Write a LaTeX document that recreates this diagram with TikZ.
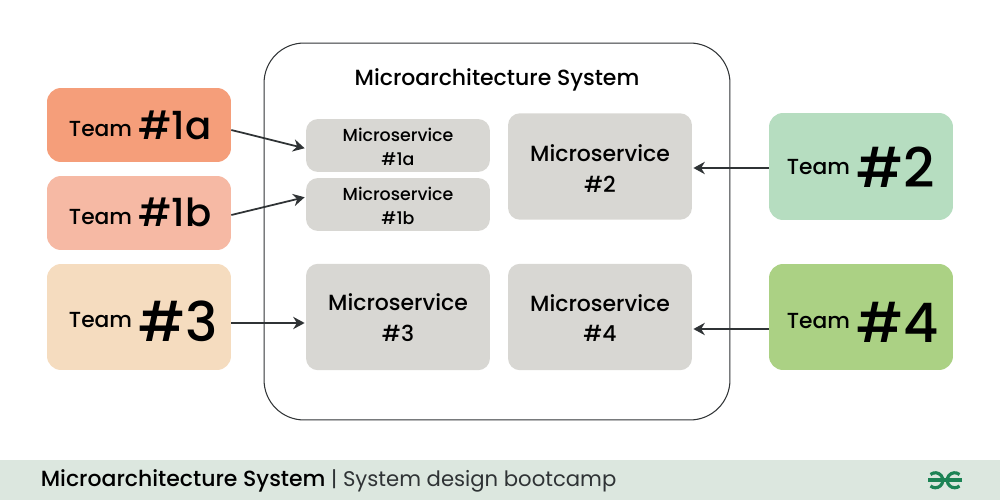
\documentclass[tikz,border=0pt]{standalone}
\usepackage{fontspec}
\setmainfont{Poppins Medium}
\newfontfamily\footerregular{Poppins}
\usetikzlibrary{arrows.meta}
\definecolor{teamA}{HTML}{F59E7A}
\definecolor{teamB}{HTML}{F6B9A4}
\definecolor{teamC}{HTML}{F5DCBF}
\definecolor{teamD}{HTML}{B6DDC0}
\definecolor{teamE}{HTML}{ABD184}
\definecolor{serviceFill}{HTML}{D8D7D3}
\definecolor{footerFill}{HTML}{DCE7DF}
\definecolor{inkDark}{HTML}{2F3335}
\definecolor{logoGreen}{HTML}{1C8355}
\newcommand{\teamText}[5]{\hspace*{#1}\smash{\raisebox{-#2}{\fontsize{12.4}{13}\selectfont Team}\hspace{3.5pt}\raisebox{-#3}{\fontsize{#4}{#4}\selectfont #5}}}
\newcommand{\serviceText}[2]{\rule{0pt}{#1}Microservice\\\##2}
\tikzset{
	teambox/.style = {rectangle, rounded corners=0.28cm, inner sep=0pt, text=black, text width=3.68cm, align=left},
	servicebox/.style = {rectangle, rounded corners=0.24cm, inner sep=0pt, fill=serviceFill, text=black, align=center, minimum width=3.68cm},
	smallservice/.style = {servicebox, minimum height=1.06cm, font=\fontsize{9.9}{13.5}\selectfont},
	bigservice/.style = {servicebox, minimum height=2.13cm, font=\fontsize{12.5}{17.3}\selectfont},
	link/.style = {draw=inkDark, line width=1pt, shorten >=0.6pt, -{Stealth[length=6.5pt,width=7pt]}}
}
\begin{document}
\begin{tikzpicture}[x=0.02cm, y=-0.02cm]
	\useasboundingbox (0,0) rectangle (1000,500);
	% footer
	\fill[footerFill] (0,460) rectangle (1000,500);
	\node[anchor=west, inner sep=0pt, text=black, font=\fontsize{12.5}{13}\selectfont] (footer) at (40.5,481)
		{Microarchitecture System {\footerregular\fontsize{12.05}{13}\selectfont\textcolor{inkDark}{| System design bootcamp}}};
	% outer box
	\node[draw=inkDark, line width=0.6pt, rounded corners=0.8cm, minimum width=9.32cm, minimum height=7.54cm, inner sep=0pt] (system) at (497,231.5) {};
	\node[inner sep=0pt, text=black, font=\fontsize{12.5}{13}\selectfont] (title) at (497,80) {Microarchitecture System};
	% services
	\node[smallservice] (service1a) at (398,145.5) {\serviceText{9pt}{1a}};
	\node[smallservice] (service1b) at (398,204.5) {\serviceText{9pt}{1b}};
	\node[bigservice] (service2) at (600,166.5) {\serviceText{12pt}{2}};
	\node[bigservice] (service3) at (398,317) {\serviceText{10.5pt}{3}};
	\node[bigservice] (service4) at (600,317) {\serviceText{10.5pt}{4}};
	% teams
	\node[teambox, fill=teamA, minimum height=1.48cm] (team1a) at (139,125) {\teamText{12.5pt}{6.8pt}{8.5pt}{22}{\#1a}};
	\node[teambox, fill=teamB, minimum height=1.48cm] (team1b) at (139,213) {\teamText{12.5pt}{6.3pt}{7.4pt}{22}{\#1b}};
	\node[teambox, fill=teamC, minimum height=2.12cm] (team3) at (139,317) {\teamText{12.5pt}{6.1pt}{14.2pt}{31}{\#3}};
	\node[teambox, fill=teamD, minimum height=2.14cm] (team2) at (861,166.5) {\teamText{10.2pt}{4.8pt}{12.2pt}{31}{\#2}};
	\node[teambox, fill=teamE, minimum height=2.12cm] (team4) at (861,317) {\teamText{10.2pt}{6.3pt}{14.6pt}{31}{\#4}};
	% links
	\draw[link] ([yshift=-0.1cm]team1a.east) -- ([yshift=-0.06cm]service1a.west);
	\draw[link] ([yshift=-0.04cm]team1b.east) -- ([yshift=0.15cm]service1b.west);
	\draw[link] ([yshift=-0.12cm]team3.east) -- ([yshift=-0.12cm]service3.west);
	\draw[link] ([yshift=-0.03cm]team2.west) -- ([yshift=-0.03cm]service2.east);
	\draw[link] ([yshift=-0.24cm]team4.west) -- ([yshift=-0.24cm]service4.east);
	% logo
	\draw[logoGreen, line width=1.8pt] (928,480) -- (962,480);
	\draw[logoGreen, line width=1.8pt] (930.5,474.5) arc (-130:130:7.5);
	\draw[logoGreen, line width=1.8pt] (959.5,474.5) arc (-50:-310:7.5);
\end{tikzpicture}
\end{document}
